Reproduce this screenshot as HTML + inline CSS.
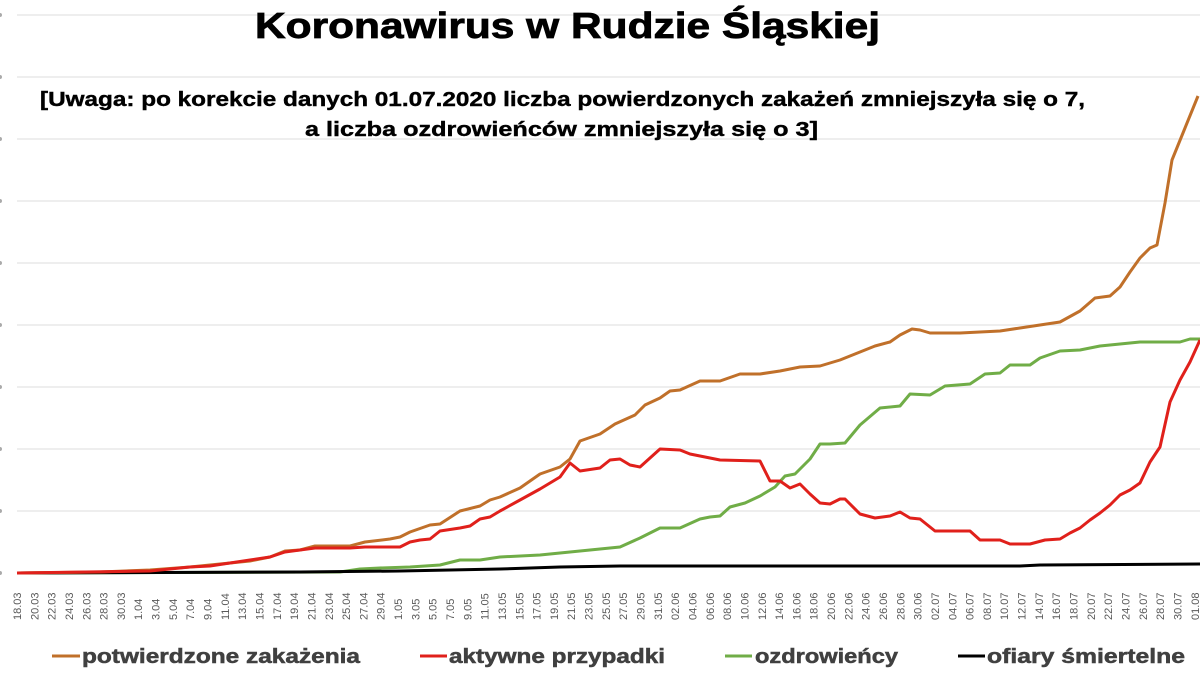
<!DOCTYPE html>
<html><head><meta charset="utf-8"><style>
html,body{margin:0;padding:0;background:#fff;}
body{width:1200px;height:679px;overflow:hidden;position:relative;font-family:"Liberation Sans",Arial,sans-serif;}
</style></head><body>
<svg id="s" width="1200" height="679" xmlns="http://www.w3.org/2000/svg" style="position:absolute;left:0;top:0">
<g stroke="#dedede" stroke-width="1">
<line x1="17" x2="1200" y1="15" y2="15"/><line x1="17" x2="1200" y1="77" y2="77"/>
<line x1="17" x2="1200" y1="139" y2="139"/><line x1="17" x2="1200" y1="201" y2="201"/>
<line x1="17" x2="1200" y1="263" y2="263"/><line x1="17" x2="1200" y1="325" y2="325"/>
<line x1="17" x2="1200" y1="387" y2="387"/><line x1="17" x2="1200" y1="449" y2="449"/>
<line x1="17" x2="1200" y1="511" y2="511"/>
</g>
<g fill="#aaa"><circle cx="0" cy="15" r="2"/><circle cx="0" cy="77" r="2"/><circle cx="0" cy="139" r="2"/><circle cx="0" cy="201" r="2"/><circle cx="0" cy="263" r="2"/><circle cx="0" cy="325" r="2"/><circle cx="0" cy="387" r="2"/><circle cx="0" cy="449" r="2"/><circle cx="0" cy="511" r="2"/><circle cx="0" cy="573" r="2"/></g>
<g fill="none" stroke-width="3" stroke-linejoin="round">
<polyline stroke="#70ad47" points="17,573 340,572 360,569 380,568 410,567 440,565 460,560 480,560 500,557 540,555 580,551 620,547 640,538 660,528 680,528 700,519 710,517 720,516 730,507 745,503 760,496 775,487 785,476 795,474 810,459 820,444 830,444 845,443 860,425 880,408 900,406 910,394 930,395 945,386 970,384 985,374 1000,373 1010,365 1030,365 1040,358 1060,351 1080,350 1100,346 1120,344 1140,342 1180,342 1190,339 1200,339"/>
<polyline stroke="#000" points="17,573 300,572 400,571 500,569 560,567 620,566 1020,566 1040,565 1200,564"/>
<polyline stroke="#c0702a" points="17,573 100,572 150,570 190,567 210,565 250,561 270,557 285,551 300,550 315,546 350,546 365,542 390,539 400,537 410,532 430,525 440,524 460,511 480,506 490,500 500,497 520,488 540,474 560,467 570,459 580,441 600,434 615,424 635,415 645,405 660,398 670,391 680,390 700,381 720,381 740,374 760,374 780,371 800,367 820,366 840,360 860,352 875,346 890,342 900,335 912,329 920,330 930,333 960,333 1000,331 1020,328 1040,325 1060,322 1080,311 1095,298 1110,296 1120,287 1130,272 1140,258 1150,248 1157,245 1165,203 1172,160 1185,128 1198,96"/>
<polyline stroke="#e0201b" points="17,573 150,571 190,567 210,566 250,560 270,557 285,552 300,550 315,548 350,548 365,547 400,547 410,542 420,540 430,539 440,531 460,528 470,526 480,519 490,517 500,511 520,500 540,489 560,477 570,463 580,471 600,468 610,460 620,459 630,465 640,467 650,458 660,449 680,450 690,454 720,460 760,461 770,481 780,481 790,488 800,484 810,494 820,503 830,504 840,499 845,499 860,514 875,518 890,516 900,512 910,518 920,519 935,531 970,531 980,540 1000,540 1010,544 1030,544 1045,540 1060,539 1070,533 1080,528 1090,520 1100,513 1110,505 1120,495 1130,490 1140,483 1150,462 1160,447 1170,402 1180,380 1190,362 1200,340"/>
</g>
<g id="xl" font-size="11" fill="#595959" font-family="Liberation Sans, sans-serif"></g>
<text x="255" y="38" textLength="625" lengthAdjust="spacingAndGlyphs" font-size="36" font-weight="bold" fill="#000" stroke="#000" stroke-width="0.8">Koronawirus w Rudzie Śląskiej</text>
<text x="40" y="106" textLength="1045" lengthAdjust="spacingAndGlyphs" font-size="20" font-weight="bold" fill="#000" stroke="#000" stroke-width="0.4">[Uwaga: po korekcie danych 01.07.2020 liczba powierdzonych zakażeń zmniejszyła się o 7,</text>
<text x="305" y="136" textLength="513" lengthAdjust="spacingAndGlyphs" font-size="20" font-weight="bold" fill="#000" stroke="#000" stroke-width="0.4">a liczba ozdrowieńców zmniejszyła się o 3]</text>
<g stroke-width="3"><line x1="52" x2="80" y1="656" y2="656" stroke="#c0702a"/><line x1="420" x2="447" y1="656" y2="656" stroke="#e0201b"/><line x1="725" x2="752" y1="656" y2="656" stroke="#70ad47"/><line x1="958" x2="985" y1="656" y2="656" stroke="#000"/></g>
<g font-size="20" font-weight="bold" fill="#404040" stroke="#404040" stroke-width="0.5">
<text x="82" y="663" textLength="278" lengthAdjust="spacingAndGlyphs">potwierdzone zakażenia</text>
<text x="449" y="663" textLength="216" lengthAdjust="spacingAndGlyphs">aktywne przypadki</text>
<text x="755" y="663" textLength="143" lengthAdjust="spacingAndGlyphs">ozdrowieńcy</text>
<text x="987" y="663" textLength="198" lengthAdjust="spacingAndGlyphs">ofiary śmiertelne</text>
</g>
</svg>
<script>
var L=[];for(var d=18;d<=30;d+=2)L.push(d+".03");for(d=1;d<=29;d+=2)L.push(d+".04");for(d=1;d<=31;d+=2)L.push(d+".05");
function p(n){return n<10?"0"+n:""+n}
for(d=2;d<=30;d+=2)L.push(p(d)+".06");for(d=2;d<=30;d+=2)L.push(p(d)+".07");L.push("01.08");
var g=document.getElementById("xl"),h="";
for(var i=0;i<L.length;i++){var x=17+i*17.32+4;h+='<text transform="translate('+x+',620) rotate(-90)">'+L[i]+'</text>';}
g.innerHTML=h;
</script>
</body></html>
